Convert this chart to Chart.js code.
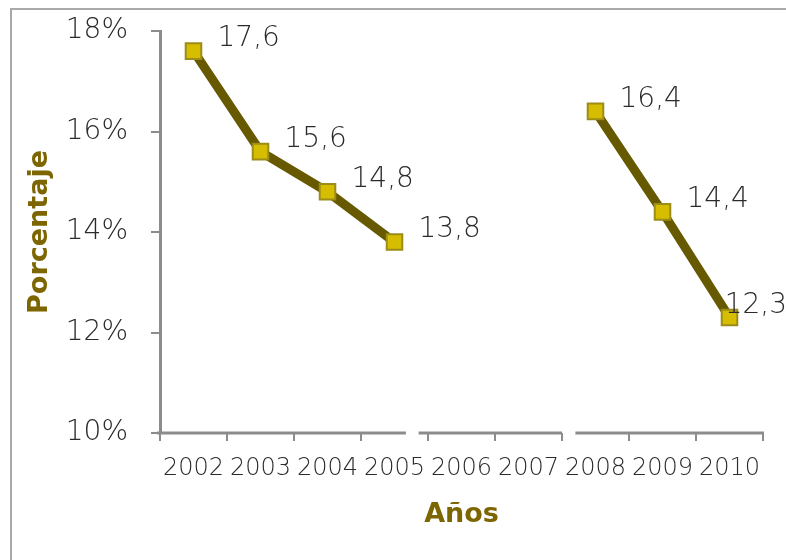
<!DOCTYPE html>
<html>
<head>
<meta charset="utf-8">
<script src="https://cdn.jsdelivr.net/npm/chart.js@4.4.1/dist/chart.umd.min.js"></script>
<style>
html,body{margin:0;padding:0;background:#fff;overflow:hidden;}
canvas{display:block;}
</style>
</head>
<body>
<canvas id="grafico" width="786" height="560"></canvas>
<script>
// datos del grafico
const anios = ['2002','2003','2004','2005','2006','2007','2008','2009','2010'];
const porcentaje = [17.6, 15.6, 14.8, 13.8, null, null, 16.4, 14.4, 12.3];
const ticksY = [10, 12, 14, 16, 18];
// cortes del eje x (en unidades de categoria)
const cortesEje = [[3.17, 3.36], [5.5, 5.7]];

const GRIS = '#8c8c8c';
const fuenteFina = 'DejaVu Sans';

// marco gris (solo izquierda y arriba)
const marcoPlugin = {
    id: 'marco',
    beforeDraw(chart) {
        const ctx = chart.ctx;
        ctx.save();
        ctx.strokeStyle = '#a9a9a9';
        ctx.lineWidth = 2;
        ctx.beginPath();
        ctx.moveTo(11, chart.height);
        ctx.lineTo(11, 9);
        ctx.lineTo(chart.width, 9);
        ctx.stroke();
        ctx.restore();
    }
};

// etiquetas de datos a la derecha de cada punto
const etiquetasPlugin = {
    id: 'etiquetas',
    afterDatasetsDraw(chart) {
        const ctx = chart.ctx;
        const meta = chart.getDatasetMeta(0);
        ctx.save();
        ctx.font = '200 28px "' + fuenteFina + '"';
        ctx.fillStyle = '#2b2b2b';
        ctx.textBaseline = 'middle';
        ctx.textAlign = 'left';
        meta.data.forEach((p, i) => {
            const v = porcentaje[i];
            if (v == null) return;
            const txt = v.toFixed(1).replace('.', ',');
            const w = ctx.measureText(txt).width;
            const x = Math.min(p.x + 24, chart.width - w + 1);
            ctx.fillText(txt, x, p.y - 12);
        });
        ctx.restore();
    }
};

// linea del eje x con cortes
const ejeXPlugin = {
    id: 'ejeX',
    beforeDatasetsDraw(chart) {
        const ctx = chart.ctx;
        const sx = chart.scales.x;
        const y = chart.chartArea.bottom;
        let pts = [sx.left - 3];
        cortesEje.forEach(c => {
            pts.push(sx.getPixelForValue(c[0]));
            pts.push(sx.getPixelForValue(c[1]));
        });
        pts.push(sx.right + 1);
        ctx.save();
        ctx.strokeStyle = GRIS;
        ctx.lineWidth = 3;
        ctx.beginPath();
        for (let i = 0; i < pts.length; i += 2) {
            ctx.moveTo(pts[i], y);
            ctx.lineTo(pts[i + 1], y);
        }
        ctx.stroke();
        ctx.restore();
    }
};

new Chart(document.getElementById('grafico'), {
    type: 'line',
    data: {
        labels: anios,
        datasets: [{
            data: porcentaje,
            borderColor: '#675900',
            borderWidth: 9,
            tension: 0,
            spanGaps: false,
            pointStyle: 'rect',
            pointRadius: 11,
            pointHoverRadius: 11,
            pointBackgroundColor: '#d6bd00',
            pointBorderColor: '#9c8c18',
            pointBorderWidth: 2,
        }],
    },
    options: {
        responsive: false,
        animation: false,
        events: [],
        layout: {
            padding: {left: 10, top: 31, right: 23, bottom: 15},
        },
        scales: {
            x: {
                offset: true,
                afterFit: s => { s.height = 112; s.paddingLeft = 0; s.paddingRight = 0; },
                grid: {
                    offset: true,
                    drawOnChartArea: false,
                    drawTicks: true,
                    tickLength: 8,
                    color: GRIS,
                    lineWidth: 2,
                },
                border: {display: false},
                ticks: {
                    autoSkip: false,
                    maxRotation: 0,
                    padding: 13,
                    color: '#2b2b2b',
                    font: {family: fuenteFina, size: 24, weight: '200'},
                },
                title: {
                    display: true,
                    text: 'Años',
                    color: '#7d6600',
                    font: {family: 'DejaVu Sans', size: 27, weight: 'bold'},
                    padding: {top: 0, bottom: 14},
                },
            },
            y: {
                min: 10,
                max: 18,
                afterFit: s => { s.width = 150; s.paddingTop = 0; s.paddingBottom = 0; },
                afterBuildTicks: s => { s.ticks = ticksY.map(v => ({value: v})); },
                grid: {
                    drawOnChartArea: false,
                    drawTicks: true,
                    tickLength: 9,
                    color: GRIS,
                    lineWidth: 2,
                },
                border: {display: true, color: GRIS, width: 3},
                ticks: {
                    padding: 23,
                    color: '#2b2b2b',
                    font: {family: fuenteFina, size: 28, weight: '200'},
                    callback: v => v + '%',
                },
                title: {
                    display: true,
                    text: 'Porcentaje',
                    color: '#7d6600',
                    font: {family: 'DejaVu Sans', size: 27, weight: 'bold'},
                    padding: {top: 14, bottom: 0},
                },
            },
        },
        plugins: {
            legend: {display: false},
            tooltip: {enabled: false},
        },
    },
    plugins: [marcoPlugin, ejeXPlugin, etiquetasPlugin],
});
</script>
</body>
</html>
